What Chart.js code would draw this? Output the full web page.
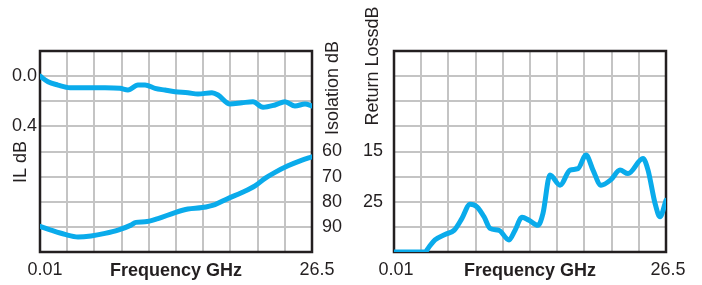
<!DOCTYPE html>
<html lang="en">
<head>
<meta charset="UTF-8">
<title>IL / Isolation / Return Loss</title>
<script src="https://cdn.jsdelivr.net/npm/chart.js@4"></script>
<style>
  body { margin: 0; background: #fff; }
  .wrap { position: relative; width: 702px; height: 285px; }
  .wrap canvas { position: absolute; top: 0; }
  #left { left: 0; }
  #right { left: 350px; }
</style>
</head>
<body>
<div class="wrap">
  <canvas id="left" width="352" height="285"></canvas>
  <canvas id="right" width="352" height="285"></canvas>
</div>
<script>
// frequency axis (GHz)
const fStart = 0.01;
const fStop = 26.5;
const freqTickLabels = ['0.01', '26.5'];

// insertion loss, dB
const ilFreq   = [0.01, 0.79, 1.76, 2.93, 4.68, 6.34, 7.80, 8.58, 9.55, 10.24, 11.21, 12.18, 13.16, 14.42, 15.40, 16.76, 17.35, 18.51, 19.68, 20.75, 21.73, 22.90, 23.87, 24.84, 25.82, 26.5];
const ilValues = [0.00, 0.045, 0.071, 0.092, 0.092, 0.092, 0.097, 0.111, 0.071, 0.071, 0.097, 0.111, 0.124, 0.132, 0.143, 0.132, 0.150, 0.222, 0.212, 0.204, 0.248, 0.230, 0.204, 0.238, 0.222, 0.238];
const ilTickValues = [0, 0.4];
const ilTickLabels = ['0.0', '0.4'];

// isolation, dB
const isoFreq   = [0.01, 1.08, 2.44, 3.71, 4.98, 6.34, 7.61, 8.87, 9.36, 10.24, 11.50, 13.16, 14.42, 15.79, 17.05, 18.32, 19.68, 20.95, 21.92, 22.90, 24.16, 25.53, 26.5];
const isoValues = [89.8, 91.3, 93.0, 94.0, 93.6, 92.6, 91.3, 89.3, 88.2, 88.0, 86.7, 84.3, 82.9, 82.3, 81.1, 78.7, 76.3, 73.7, 70.7, 68.3, 65.7, 63.4, 62.1];
const isoTickValues = [60, 70, 80, 90];
const isoTickLabels = ['60', '70', '80', '90'];

// return loss, dB
const rlFreq   = [0.01, 3.03, 3.42, 4.00, 4.98, 5.85, 6.63, 7.41, 8.09, 8.78, 9.36, 10.24, 11.21, 11.79, 12.48, 13.16, 14.03, 14.52, 15.20, 16.18, 17.15, 17.93, 18.71, 19.39, 20.17, 21.14, 22.02, 22.80, 24.26, 24.75, 25.43, 25.92, 26.5];
const rlValues = [35.0, 35.0, 34.0, 32.6, 31.5, 30.7, 28.3, 25.5, 26.0, 28.0, 30.3, 30.7, 32.6, 30.7, 28.1, 28.7, 29.7, 27.3, 19.7, 21.7, 18.7, 18.4, 15.7, 18.7, 21.7, 20.6, 18.7, 19.4, 16.4, 18.7, 25.3, 28.0, 24.7];
const rlTickValues = [15, 25];
const rlTickLabels = ['15', '25'];

const lineColor = '#0aabeb';
const gridColor = '#c4c4c4';
const frameColor = '#231f20';

Chart.defaults.font.family = "'Liberation Sans', Arial, sans-serif";
Chart.defaults.font.size = 18;
Chart.defaults.color = '#231f20';

const toPoints = (xs, ys) => xs.map((x, i) => ({ x: x, y: ys[i] }));

function pickLabel(values, labels) {
  return v => {
    const i = values.findIndex(t => Math.abs(t - v) < 1e-6);
    return i >= 0 ? labels[i] : '';
  };
}

// dark box around the plot
const framePlugin = {
  id: 'frame',
  beforeDatasetsDraw(chart) {
    const a = chart.chartArea, ctx = chart.ctx;
    ctx.save();
    ctx.strokeStyle = frameColor;
    ctx.lineWidth = 2.5;
    ctx.strokeRect(a.left, a.top, a.right - a.left, a.bottom - a.top);
    ctx.restore();
  }
};

// rotated axis titles (all read bottom to top)
const sideTitles = {
  id: 'sideTitles',
  afterDraw(chart, args, opts) {
    const ctx = chart.ctx;
    (opts.items || []).forEach(t => {
      ctx.save();
      ctx.translate(t.x, t.y);
      ctx.rotate(-Math.PI / 2);
      ctx.font = "18px 'Liberation Sans', Arial, sans-serif";
      ctx.fillStyle = '#231f20';
      ctx.textAlign = 'center';
      ctx.textBaseline = 'middle';
      ctx.fillText(t.text, 0, 0);
      ctx.restore();
    });
  }
};

function freqAxis(offset) {
  return {
    type: 'linear',
    min: fStart,
    max: fStop,
    afterBuildTicks: s => {
      const ticks = [];
      for (let i = 0; i <= 10; i++) ticks.push({ value: fStart + (fStop - fStart) * i / 10 });
      s.ticks = ticks;
    },
    afterFit: s => { s.height = 33; s.paddingLeft = 0; s.paddingRight = 0; },
    grid: { color: gridColor, lineWidth: 2, drawTicks: false },
    border: { display: false },
    ticks: {
      autoSkip: false,
      maxRotation: 0,
      padding: 7,
      labelOffset: offset,
      callback: (v, i, arr) => i === 0 ? freqTickLabels[0] : (i === arr.length - 1 ? freqTickLabels[1] : '')
    },
    title: {
      display: true,
      text: 'Frequency GHz',
      font: { weight: 'bold', size: 18 },
      padding: { top: 0, bottom: 3 }
    }
  };
}

const lineStyle = {
  borderColor: lineColor,
  borderWidth: 5,
  pointRadius: 0,
  fill: false,
  cubicInterpolationMode: 'monotone',
  borderCapStyle: 'round',
  borderJoinStyle: 'round'
};

new Chart(document.getElementById('left'), {
  type: 'line',
  data: {
    datasets: [
      Object.assign({ label: 'IL', data: toPoints(ilFreq, ilValues), yAxisID: 'y' }, lineStyle),
      Object.assign({ label: 'Isolation', data: toPoints(isoFreq, isoValues), yAxisID: 'y2' }, lineStyle)
    ]
  },
  options: {
    responsive: false,
    animation: false,
    layout: { padding: { top: 51, left: 0, right: 0, bottom: 0 } },
    plugins: {
      legend: { display: false },
      tooltip: { enabled: false },
      sideTitles: { items: [
        { text: 'IL dB', x: 21, y: 162 },
        { text: 'Isolation dB', x: 333, y: 88 }
      ] }
    },
    scales: {
      x: freqAxis(5),
      y: {
        position: 'left',
        min: -0.2, max: 1.4, reverse: true,
        afterFit: s => { s.width = 40; s.paddingTop = 0; s.paddingBottom = 0; },
        grid: { color: gridColor, lineWidth: 2, drawTicks: false },
        border: { display: false },
        ticks: { stepSize: 0.2, padding: 3, callback: pickLabel(ilTickValues, ilTickLabels) }
      },
      y2: {
        position: 'right',
        min: 20, max: 100, reverse: true,
        afterFit: s => { s.width = 40; s.paddingTop = 0; s.paddingBottom = 0; },
        grid: { display: false, drawTicks: false },
        border: { display: false },
        ticks: { stepSize: 10, padding: 10, callback: pickLabel(isoTickValues, isoTickLabels) }
      }
    }
  },
  plugins: [framePlugin, sideTitles]
});

new Chart(document.getElementById('right'), {
  type: 'line',
  data: {
    datasets: [
      Object.assign({ label: 'Return Loss', data: toPoints(rlFreq, rlValues), yAxisID: 'y' }, lineStyle)
    ]
  },
  options: {
    responsive: false,
    animation: false,
    layout: { padding: { top: 51, left: 0, right: 36, bottom: 0 } },
    plugins: {
      legend: { display: false },
      tooltip: { enabled: false },
      sideTitles: { items: [
        { text: 'Return LossdB', x: 23, y: 66 }
      ] }
    },
    scales: {
      x: freqAxis(2),
      y: {
        position: 'left',
        min: -5, max: 35, reverse: true,
        afterFit: s => { s.width = 44; s.paddingTop = 0; s.paddingBottom = 0; },
        grid: { color: gridColor, lineWidth: 2, drawTicks: false },
        border: { display: false },
        ticks: { stepSize: 5, padding: 11, callback: pickLabel(rlTickValues, rlTickLabels) }
      }
    }
  },
  plugins: [framePlugin, sideTitles]
});
</script>
</body>
</html>
